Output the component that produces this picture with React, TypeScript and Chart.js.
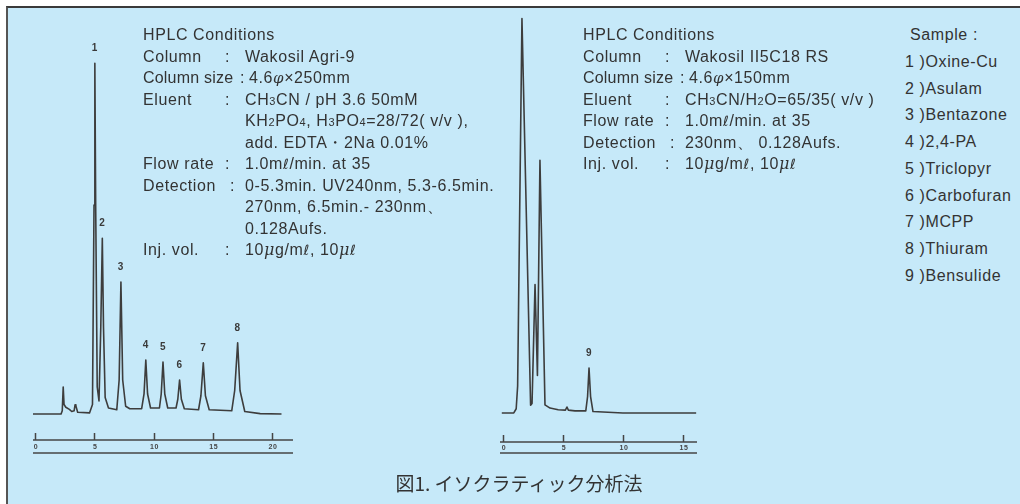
import React, { useEffect, useRef } from "react";
import { Chart, registerables } from "chart.js";

Chart.register(...registerables);

// Wakosil Agri-9 run: retention time (min) and detector response (relative)
const agriTime = [
  -0.17, 2.2, 2.3, 2.38, 2.45, 2.6, 2.9, 3.1, 3.3, 3.38, 3.45, 3.6, 4.6, 4.85, 4.98, 5.05, 5.12, 5.25, 5.4,
  5.55, 5.68, 5.78, 5.92, 6.2, 6.9, 7.1, 7.25, 7.4, 7.65, 8.0, 9.0, 9.2, 9.35, 9.5, 9.75, 10.5, 10.65, 10.8,
  10.95, 11.2, 11.9, 12.05, 12.2, 12.35, 12.6, 13.8, 14.0, 14.2, 14.38, 14.7, 16.6, 16.85, 17.1, 17.3, 17.7,
  19.0, 20.8,
];
const agriSignal = [
  0.3, 0.3, 1.2, 8, 3, 2.2, 1.6, 1.0, 1.2, 2.9, 2.6, 0.8, 0.6, 3, 60, 100.5, 60, 8, 4,
  25, 50.5, 25, 5, 2, 1.5, 10, 38, 10, 2.5, 1.8, 1.8, 6, 15.7, 6, 2, 2, 6, 15.1,
  6, 2, 2, 4.5, 10, 4.5, 1.8, 1.5, 5.5, 14.9, 5.5, 1.5, 1.2, 7, 20.6, 7, 1,
  0.4, 0.3,
];
const agriPeakTimes = [5.05, 5.68, 7.25, 9.35, 10.8, 12.2, 14.2, 17.1];
const agriPeakNames = ["1", "2", "3", "4", "5", "6", "7", "8"];
const agriTicks = [0, 5, 10, 15, 20];

// Wakosil II5C18 RS run
const odsTime = [
  -0.1, 0.9, 1.1, 1.22, 1.58, 2.3, 2.42, 2.67, 2.87, 3.08, 3.5, 3.92, 4.6, 5.2, 5.33, 5.45, 6.0, 6.9,
  7.05, 7.17, 7.3, 7.5, 10.0, 16.1,
];
const odsSignal = [
  0.3, 0.3, 1.5, 8, 113, 2.5, 3, 37, 11, 72.5, 2.6, 1.7, 1.2, 1.1, 2, 1.1, 0.9, 0.9,
  5, 13.1, 5, 0.7, 0.3, 0.3,
];
const odsPeakTimes = [7.17];
const odsPeakNames = ["9"];
const odsTicks = [0, 5, 10, 15];

const sampleNames = [
  "Oxine-Cu", "Asulam", "Bentazone", "2,4-PA", "Triclopyr", "Carbofuran", "MCPP", "Thiuram", "Bensulide",
];

const TEXT = "#333333";
const FONT = "'Liberation Sans', Arial, sans-serif";

type BarSpec = { top: number; bottom: number; tickTop: number; ticks: number[] };

function timeBarPlugin(spec: BarSpec) {
  return {
    id: "timeBar",
    afterDraw(chart: any) {
      const { ctx, chartArea } = chart;
      const x = chart.scales.x;
      ctx.save();
      ctx.strokeStyle = "#454545";
      ctx.lineWidth = 1.5;
      ctx.beginPath();
      ctx.moveTo(chartArea.left, spec.top);
      ctx.lineTo(chartArea.right, spec.top);
      ctx.moveTo(chartArea.left, spec.bottom);
      ctx.lineTo(chartArea.right, spec.bottom);
      for (const t of spec.ticks) {
        const px = Math.round(x.getPixelForValue(t)) + 0.5;
        ctx.moveTo(px, spec.tickTop);
        ctx.lineTo(px, spec.top);
      }
      ctx.stroke();
      ctx.fillStyle = "#454545";
      ctx.font = `bold 7px ${FONT}`;
      ctx.textAlign = "center";
      ctx.textBaseline = "middle";
      for (const t of spec.ticks) {
        ctx.fillText(String(t), x.getPixelForValue(t) + 1, (spec.top + spec.bottom) / 2 + 1);
      }
      ctx.restore();
    },
  };
}

function peakLabelPlugin(time: number[], signal: number[], peakTimes: number[], names: string[]) {
  return {
    id: "peakLabels",
    afterDatasetsDraw(chart: any) {
      const { ctx } = chart;
      const x = chart.scales.x;
      const y = chart.scales.y;
      ctx.save();
      ctx.fillStyle = "#3a3a3a";
      ctx.font = `bold 10px ${FONT}`;
      ctx.textAlign = "center";
      ctx.textBaseline = "middle";
      peakTimes.forEach((t, i) => {
        const idx = time.indexOf(t);
        ctx.fillText(names[i], x.getPixelForValue(t), y.getPixelForValue(signal[idx]) - 15);
      });
      ctx.restore();
    },
  };
}

type PanelProps = {
  time: number[];
  signal: number[];
  peakTimes: number[];
  peakNames: string[];
  left: number;
  width: number;
  height: number;
  padding: { left: number; right: number; top: number; bottom: number };
  xMin: number;
  xMax: number;
  yMin: number;
  yMax: number;
  bar: BarSpec;
};

function Chromatogram(p: PanelProps) {
  const ref = useRef<HTMLCanvasElement>(null);
  useEffect(() => {
    const chart = new Chart(ref.current!, {
      type: "line",
      data: {
        datasets: [
          {
            data: p.time.map((t, i) => ({ x: t, y: p.signal[i] })),
            borderColor: "#3d3d3d",
            borderWidth: 1.6,
            borderJoinStyle: "round",
            pointRadius: 0,
            tension: 0,
            fill: false,
          },
        ],
      },
      options: {
        animation: false,
        responsive: false,
        maintainAspectRatio: false,
        devicePixelRatio: 1,
        events: [],
        layout: { padding: p.padding },
        plugins: { legend: { display: false }, tooltip: { enabled: false } },
        scales: {
          x: { type: "linear", min: p.xMin, max: p.xMax, display: false },
          y: { type: "linear", min: p.yMin, max: p.yMax, display: false },
        },
      },
      plugins: [timeBarPlugin(p.bar), peakLabelPlugin(p.time, p.signal, p.peakTimes, p.peakNames)],
    });
    return () => chart.destroy();
  }, []);
  return (
    <canvas
      ref={ref}
      width={p.width}
      height={p.height}
      style={{
        position: "absolute",
        left: p.left,
        top: 0,
        width: p.width,
        height: p.height,
        filter: "blur(0.35px)",
      }}
    />
  );
}

const sub = (s: string) => <span style={{ fontSize: 11 }}>{s}</span>;
const ell = <span style={{ fontFamily: "'DejaVu Sans', sans-serif", fontStyle: "italic", fontSize: 14 }}>ℓ</span>;
const mu = <i style={{ fontFamily: "'DejaVu Serif', serif" }}>μ</i>;
const phi = <i style={{ fontFamily: "'DejaVu Serif', serif", fontSize: 15 }}>φ</i>;

function Line(props: { x: number; y: number; spacing?: number; children: React.ReactNode }) {
  return (
    <div
      style={{
        position: "absolute",
        left: props.x,
        top: props.y - 10,
        lineHeight: "20px",
        whiteSpace: "nowrap",
        letterSpacing: props.spacing !== undefined ? `${props.spacing}px` : undefined,
      }}
    >
      {props.children}
    </div>
  );
}

function Row(props: {
  x: number;
  y: number;
  label?: string;
  labelSpacing?: number;
  colon?: number;
  valueX?: number;
  children?: React.ReactNode;
}) {
  const { x, y } = props;
  return (
    <>
      {props.label && (
        <Line x={x} y={y} spacing={props.labelSpacing}>
          {props.label}
        </Line>
      )}
      {props.colon !== undefined && <Line x={x + props.colon - 2} y={y}>:</Line>}
      {props.children !== undefined && (
        <Line x={x + (props.valueX ?? 102)} y={y}>
          {props.children}
        </Line>
      )}
    </>
  );
}

const rowY = (i: number) => 35 + i * 21.5;

export default function App() {
  const L = 143;
  const R = 583;
  return (
    <div
      style={{
        position: "fixed",
        left: 0,
        top: 0,
        width: 1020,
        height: 504,
        background: "#ffffff",
        overflow: "hidden",
        fontFamily: FONT,
        fontSize: 16,
        letterSpacing: "0.6px",
        color: TEXT,
      }}
    >
      <div
        style={{
          position: "absolute",
          left: 6,
          top: 6,
          width: 1014,
          height: 498,
          boxSizing: "border-box",
          borderTop: "2px solid #3a3a3a",
          borderLeft: "2px solid #555555",
          background: "#c6e9f9",
        }}
      />

      <Chromatogram
        time={agriTime}
        signal={agriSignal}
        peakTimes={agriPeakTimes}
        peakNames={agriPeakNames}
        left={0}
        width={310}
        height={470}
        padding={{ left: 33, right: 17, top: 20, bottom: 50 }}
        xMin={-0.169}
        xMax={21.77}
        yMin={-1.43}
        yMax={112.86}
        bar={{ top: 440, bottom: 453, tickTop: 433, ticks: agriTicks }}
      />
      <Chromatogram
        time={odsTime}
        signal={odsSignal}
        peakTimes={odsPeakTimes}
        peakNames={odsPeakNames}
        left={480}
        width={240}
        height={470}
        padding={{ left: 20, right: 23, top: 8, bottom: 50 }}
        xMin={-0.25}
        xMax={16.17}
        yMin={-1.71}
        yMax={116}
        bar={{ top: 442, bottom: 453, tickTop: 435, ticks: odsTicks }}
      />

      {/* Conditions for the Agri-9 separation */}
      <Line x={L} y={rowY(0)}>HPLC Conditions</Line>
      <Row x={L} y={rowY(1)} label="Column" colon={84}>Wakosil Agri-9</Row>
      <Row x={L} y={rowY(2)} label="Column size" labelSpacing={0.2} colon={99} valueX={106}>4.6{phi}×250mm</Row>
      <Row x={L} y={rowY(3)} label="Eluent" colon={84}>CH{sub("3")}CN / pH 3.6 50mM</Row>
      <Row x={L} y={rowY(4)}>KH{sub("2")}PO{sub("4")}, H{sub("3")}PO{sub("4")}=28/72( v/v ),</Row>
      <Row x={L} y={rowY(5)}>add. EDTA・2Na 0.01%</Row>
      <Row x={L} y={rowY(6)} label="Flow rate" colon={84}>1.0m{ell}/min. at 35</Row>
      <Row x={L} y={rowY(7)} label="Detection" colon={89}>0-5.3min. UV240nm, 5.3-6.5min.</Row>
      <Row x={L} y={rowY(8)}>270nm, 6.5min.- 230nm、</Row>
      <Row x={L} y={rowY(9)}>0.128Aufs.</Row>
      <Row x={L} y={rowY(10)} label="Inj. vol." colon={84}>10{mu}g/m{ell}, 10{mu}{ell}</Row>

      {/* Conditions for the II5C18 RS separation */}
      <Line x={R} y={rowY(0)}>HPLC Conditions</Line>
      <Row x={R} y={rowY(1)} label="Column" colon={84}>Wakosil II5C18 RS</Row>
      <Row x={R} y={rowY(2)} label="Column size" labelSpacing={0.2} colon={99} valueX={106}>4.6{phi}×150mm</Row>
      <Row x={R} y={rowY(3)} label="Eluent" colon={84}>CH{sub("3")}CN/H{sub("2")}O=65/35( v/v )</Row>
      <Row x={R} y={rowY(4)} label="Flow rate" colon={84}>1.0m{ell}/min. at 35</Row>
      <Row x={R} y={rowY(5)} label="Detection" colon={89}>230nm、 0.128Aufs.</Row>
      <Row x={R} y={rowY(6)} label="Inj. vol." colon={84}>10{mu}g/m{ell}, 10{mu}{ell}</Row>

      {/* Sample key */}
      <Line x={910} y={35}>Sample :</Line>
      {sampleNames.map((name, i) => (
        <Line key={name} x={905} y={62 + i * 26.7}>
          {i + 1} ){name}
        </Line>
      ))}

      <div
        style={{
          position: "absolute",
          left: 319,
          width: 400,
          top: 471,
          lineHeight: "24px",
          textAlign: "center",
          fontFamily: "'Noto Sans CJK JP', sans-serif",
          fontSize: 19,
          letterSpacing: 0,
          color: TEXT,
        }}
      >
        図1. イソクラティック分析法
      </div>
    </div>
  );
}
